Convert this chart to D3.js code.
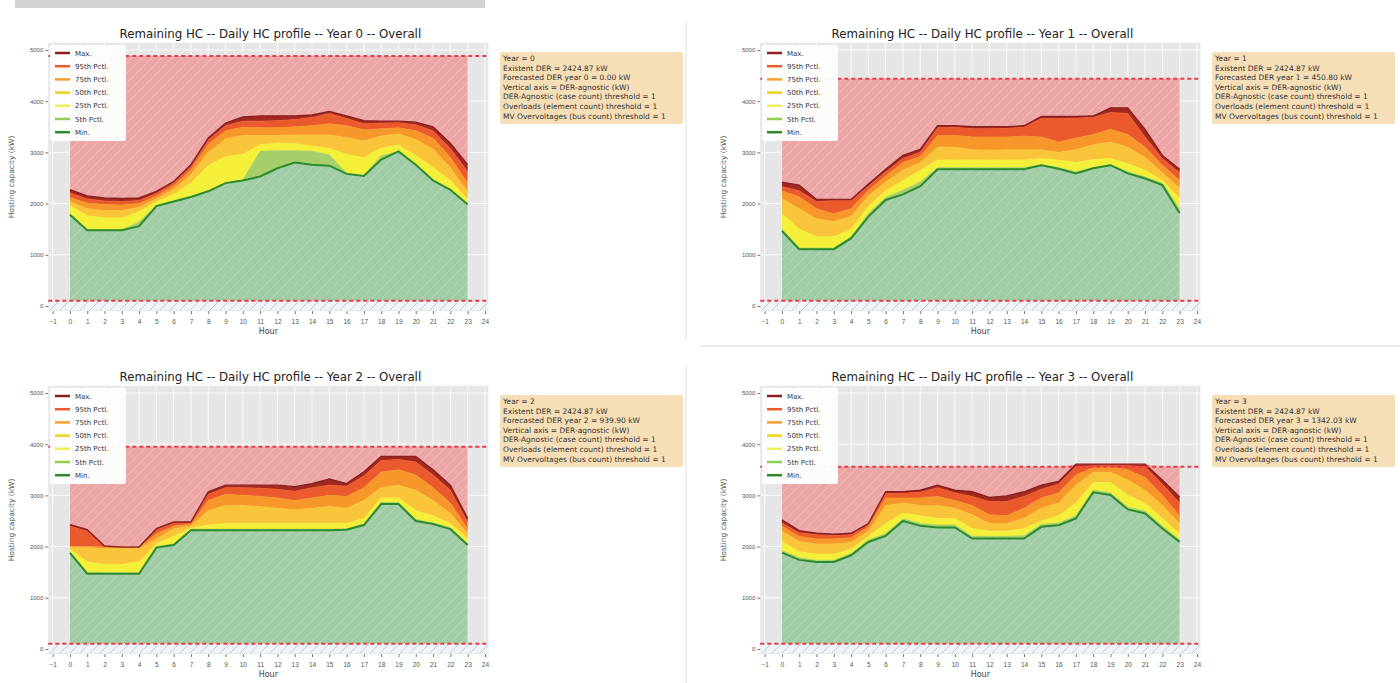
<!DOCTYPE html>
<html>
<head>
<meta charset="utf-8">
<script src="https://cdn.jsdelivr.net/npm/d3@7"></script>
<style>
  html, body { margin: 0; padding: 0; background: #fff; }
  svg { display: block; font-family: "DejaVu Sans", sans-serif; }
  .tick text { fill: #555; }
  .tick line { stroke: #777; }
</style>
</head>
<body>
<svg id="chart" width="1400" height="683"></svg>
<script>
// ---- data ----
var hours = [0, 1, 2, 3, 4, 5, 6, 7, 8, 9, 10, 11, 12, 13, 14, 15, 16, 17, 18, 19, 20, 21, 22, 23];
var xTicks = [-1, 0, 1, 2, 3, 4, 5, 6, 7, 8, 9, 10, 11, 12, 13, 14, 15, 16, 17, 18, 19, 20, 21, 22, 23, 24];
var yTicks = [0, 1000, 2000, 3000, 4000, 5000];
var seriesNames = ["Max.", "95th Pctl.", "75th Pctl.", "50th Pctl.", "25th Pctl.", "5th Pctl.", "Min."];

var years = [0, 1, 2, 3];
var upperLimit = [4880, 4440, 3950, 3560];
var lowerLimit = [100, 100, 100, 100];
var existentDer = ["2424.87", "2424.87", "2424.87", "2424.87"];
var forecastDer = ["0.00", "450.80", "939.90", "1342.03"];

var y0Max = [2270, 2150, 2110, 2100, 2110, 2240, 2430, 2760, 3280, 3570, 3690, 3710, 3710, 3710, 3730, 3800, 3710, 3620, 3610, 3610, 3590, 3500, 3180, 2760];
var y0P95 = [2210, 2090, 2050, 2040, 2060, 2200, 2400, 2720, 3240, 3520, 3610, 3610, 3620, 3640, 3680, 3760, 3660, 3560, 3570, 3580, 3540, 3420, 3080, 2620];
var y0P75 = [2120, 2010, 1980, 1970, 2000, 2150, 2350, 2660, 3160, 3420, 3490, 3480, 3480, 3500, 3520, 3560, 3520, 3440, 3460, 3480, 3420, 3280, 2900, 2400];
var y0P50 = [2040, 1900, 1860, 1860, 1930, 2090, 2280, 2560, 3000, 3260, 3330, 3330, 3330, 3340, 3340, 3340, 3290, 3220, 3320, 3360, 3250, 3060, 2700, 2230];
var y0P25 = [1960, 1760, 1720, 1720, 1840, 2030, 2180, 2400, 2740, 2920, 2960, 3150, 3180, 3170, 3120, 3080, 2960, 2900, 3080, 3140, 2940, 2700, 2450, 2080];
var y0P5  = [1800, 1490, 1480, 1480, 1640, 1960, 2050, 2140, 2250, 2410, 2460, 3020, 3030, 3030, 3020, 2950, 2590, 2550, 2930, 3020, 2760, 2460, 2280, 1990];
var y0Min = [1780, 1480, 1480, 1480, 1560, 1950, 2040, 2130, 2240, 2400, 2450, 2530, 2690, 2800, 2760, 2740, 2580, 2540, 2860, 3020, 2760, 2450, 2270, 1980];

var y1Max = [2420, 2360, 2080, 2080, 2080, 2380, 2670, 2940, 3060, 3520, 3520, 3500, 3500, 3500, 3520, 3700, 3700, 3700, 3710, 3870, 3870, 3450, 2940, 2670];
var y1P95 = [2330, 2250, 2040, 2060, 2060, 2340, 2620, 2880, 3000, 3480, 3490, 3460, 3460, 3470, 3490, 3660, 3660, 3670, 3680, 3780, 3760, 3300, 2880, 2600];
var y1P75 = [2250, 2130, 1900, 1800, 1900, 2260, 2540, 2800, 2920, 3330, 3330, 3300, 3300, 3300, 3320, 3300, 3200, 3280, 3350, 3450, 3350, 3100, 2750, 2450];
var y1P50 = [2100, 1900, 1700, 1650, 1750, 2150, 2420, 2650, 2800, 3100, 3100, 3050, 3040, 3050, 3050, 3050, 3000, 3050, 3150, 3200, 3100, 2900, 2600, 2300];
var y1P25 = [1800, 1500, 1350, 1350, 1500, 1950, 2250, 2450, 2650, 2850, 2850, 2850, 2850, 2850, 2850, 2880, 2850, 2800, 2860, 2880, 2780, 2650, 2450, 2100];
var y1P5  = [1500, 1130, 1130, 1130, 1350, 1800, 2120, 2260, 2420, 2700, 2700, 2700, 2700, 2700, 2700, 2760, 2700, 2620, 2700, 2760, 2620, 2520, 2400, 1900];
var y1Min = [1465, 1110, 1110, 1110, 1320, 1745, 2070, 2180, 2340, 2670, 2670, 2670, 2670, 2670, 2670, 2750, 2680, 2590, 2690, 2750, 2590, 2490, 2360, 1810];

var y2Max = [2430, 2330, 2010, 1990, 1990, 2350, 2480, 2480, 3070, 3200, 3200, 3200, 3200, 3170, 3230, 3320, 3230, 3460, 3760, 3760, 3760, 3500, 3200, 2550];
var y2P95 = [2400, 2300, 2000, 1990, 1990, 2330, 2460, 2470, 3020, 3150, 3150, 3140, 3120, 3080, 3150, 3200, 3180, 3380, 3680, 3700, 3650, 3400, 3100, 2480];
var y2P75 = [2000, 2000, 1990, 1980, 1980, 2250, 2400, 2440, 2900, 3020, 3000, 2980, 2950, 2900, 2950, 3000, 2980, 3150, 3450, 3500, 3400, 3150, 2850, 2350];
var y2P50 = [1990, 1980, 1960, 1960, 1960, 2150, 2350, 2400, 2700, 2800, 2800, 2780, 2750, 2720, 2750, 2780, 2750, 2900, 3150, 3200, 3100, 2900, 2650, 2250];
var y2P25 = [1950, 1700, 1650, 1650, 1700, 2050, 2200, 2360, 2420, 2450, 2450, 2450, 2450, 2450, 2450, 2450, 2450, 2550, 2950, 2950, 2700, 2600, 2450, 2150];
var y2P5  = [1900, 1500, 1490, 1490, 1490, 2000, 2050, 2340, 2340, 2340, 2340, 2340, 2340, 2340, 2340, 2340, 2350, 2440, 2860, 2860, 2530, 2460, 2370, 2060];
var y2Min = [1876, 1470, 1470, 1470, 1470, 1980, 2030, 2320, 2320, 2320, 2320, 2320, 2320, 2320, 2320, 2320, 2330, 2420, 2830, 2830, 2500, 2440, 2340, 2030];

var y3Max = [2520, 2310, 2260, 2240, 2260, 2450, 3070, 3070, 3100, 3200, 3100, 3070, 2960, 2990, 3070, 3200, 3270, 3610, 3610, 3610, 3610, 3610, 3300, 2970];
var y3P95 = [2460, 2270, 2230, 2220, 2230, 2420, 3040, 3040, 3060, 3150, 3050, 2980, 2880, 2880, 2980, 3120, 3220, 3560, 3580, 3580, 3580, 3560, 3220, 2850];
var y3P75 = [2400, 2200, 2150, 2150, 2170, 2380, 2950, 2950, 2950, 2980, 2900, 2800, 2620, 2600, 2750, 2950, 3050, 3400, 3540, 3550, 3500, 3350, 3000, 2600];
var y3P50 = [2300, 2100, 2050, 2050, 2080, 2300, 2800, 2850, 2800, 2800, 2750, 2620, 2450, 2450, 2550, 2750, 2850, 3200, 3450, 3450, 3300, 3100, 2800, 2450];
var y3P25 = [2100, 1900, 1850, 1850, 1950, 2200, 2450, 2650, 2600, 2550, 2550, 2350, 2300, 2300, 2350, 2500, 2600, 2850, 3250, 3250, 3000, 2850, 2550, 2250];
var y3P5  = [1920, 1780, 1730, 1730, 1860, 2130, 2250, 2540, 2450, 2420, 2420, 2200, 2200, 2200, 2210, 2430, 2460, 2600, 3100, 3050, 2770, 2690, 2400, 2130];
var y3Min = [1882, 1740, 1700, 1700, 1830, 2090, 2210, 2500, 2405, 2373, 2373, 2157, 2157, 2157, 2157, 2386, 2418, 2549, 3059, 3007, 2725, 2647, 2353, 2092];

var yearSeries = [
    [y0Max, y0P95, y0P75, y0P50, y0P25, y0P5, y0Min],
    [y1Max, y1P95, y1P75, y1P50, y1P25, y1P5, y1Min],
    [y2Max, y2P95, y2P75, y2P50, y2P25, y2P5, y2Min],
    [y3Max, y3P95, y3P75, y3P50, y3P25, y3P5, y3Min]
];

// ---- styling ----
var bandColors = ["#a3281f", "#eb5a2c", "#f6962b", "#fac43a", "#f4f03a", "#a6cf6c"];
var lineColors = ["#8b2020", "#ee5a2a", "#f7a030", "#efd21a", "#eef05a", "#8fcf50", "#2e8a2e"];
var pinkFill = "#eca6a6";
var greenFill = "#a0cda5";

var svg = d3.select("#chart");
var defs = svg.append("defs");

function hatch(id, bg, stroke, op) {
    var p = defs.append("pattern")
        .attr("id", id)
        .attr("patternUnits", "userSpaceOnUse")
        .attr("width", 10).attr("height", 10);
    p.append("rect").attr("width", 10).attr("height", 10).attr("fill", bg);
    p.append("path")
        .attr("d", "M-2.5,2.5 l5,-5 M0,10 l10,-10 M7.5,12.5 l5,-5")
        .attr("stroke", stroke).attr("stroke-opacity", op).attr("stroke-width", 0.9);
}
hatch("hatchPink", pinkFill, "#ffffff", 0.3);
hatch("hatchGreen", greenFill, "#ffffff", 0.28);
hatch("hatchBlue", "#f1f4f8", "#9fb9da", 0.8);

// page decorations
svg.append("rect").attr("x", 15).attr("y", 0).attr("width", 470).attr("height", 8).attr("fill", "#d4d4d4");
svg.append("line").attr("x1", 686).attr("x2", 686).attr("y1", 22).attr("y2", 340).attr("stroke", "#dcdcdc");
svg.append("line").attr("x1", 686).attr("x2", 686).attr("y1", 366).attr("y2", 683).attr("stroke", "#dcdcdc");
svg.append("line").attr("x1", 700).attr("x2", 1400).attr("y1", 346).attr("y2", 346).attr("stroke", "#dcdcdc");

var offsets = [[0, 0], [712, 0], [0, 343], [712, 343]];

var x = d3.scaleLinear().domain([-1.25, 24.2]).range([48.3, 488.4]);
var y = d3.scaleLinear().domain([-100, 5140]).range([311.1, 42.8]);

function drawPanel(i) {
    var g = svg.append("g").attr("transform", "translate(" + offsets[i][0] + "," + offsets[i][1] + ")");
    var s = yearSeries[i];
    var up = upperLimit[i], lo = lowerLimit[i];
    var x0 = x.range()[0], x1 = x.range()[1];

    g.append("rect")
        .attr("x", x0).attr("y", y.range()[1])
        .attr("width", x1 - x0).attr("height", y.range()[0] - y.range()[1])
        .attr("fill", "#e6e6e6");

    g.append("g").selectAll("line").data(xTicks).join("line")
        .attr("x1", function(d) { return x(d); }).attr("x2", function(d) { return x(d); })
        .attr("y1", y.range()[1]).attr("y2", y.range()[0])
        .attr("stroke", "#fff").attr("stroke-width", 0.8);
    g.append("g").selectAll("line").data(yTicks).join("line")
        .attr("x1", x0).attr("x2", x1)
        .attr("y1", function(d) { return y(d); }).attr("y2", function(d) { return y(d); })
        .attr("stroke", "#fff").attr("stroke-width", 0.8);

    // strip below the lower limit
    g.append("rect")
        .attr("x", x0).attr("width", x1 - x0)
        .attr("y", y(lo)).attr("height", y(-80) - y(lo))
        .attr("fill", "url(#hatchBlue)");

    function band(top, bottom) {
        return d3.area()
            .x(function(d, k) { return x(hours[k]); })
            .y0(function(d, k) { return y(bottom(k)); })
            .y1(function(d, k) { return y(top(k)); })(hours);
    }

    // pink area above the max
    g.append("path")
        .attr("d", band(function(k) { return Math.max(up, s[0][k]); }, function(k) { return s[0][k]; }))
        .attr("fill", "url(#hatchPink)");
    // green area under the min
    g.append("path")
        .attr("d", band(function(k) { return s[6][k]; }, function() { return lo; }))
        .attr("fill", "url(#hatchGreen)");

    for (var b = 0; b < 6; b++) {
        (function(b) {
            g.append("path")
                .attr("d", band(function(k) { return s[b][k]; }, function(k) { return s[b + 1][k]; }))
                .attr("fill", bandColors[b]);
        })(b);
    }

    var line = d3.line()
        .x(function(d, k) { return x(hours[k]); })
        .y(function(d) { return y(d); });
    for (var j = 1; j < 6; j++) {
        g.append("path").attr("d", line(s[j])).attr("fill", "none")
            .attr("stroke", bandColors[j]).attr("stroke-width", 0.8);
    }
    g.append("path").attr("d", line(s[0])).attr("fill", "none")
        .attr("stroke", "#8b2020").attr("stroke-width", 1.4);
    g.append("path").attr("d", line(s[6])).attr("fill", "none")
        .attr("stroke", "#2e8a2e").attr("stroke-width", 2);

    [up, lo].forEach(function(v) {
        g.append("line")
            .attr("x1", x0).attr("x2", x1)
            .attr("y1", y(v)).attr("y2", y(v))
            .attr("stroke", "#ec3b45").attr("stroke-width", 2)
            .attr("stroke-dasharray", "4,3");
    });

    // axes
    var xa = g.append("g").attr("transform", "translate(0," + y.range()[0] + ")")
        .call(d3.axisBottom(x).tickValues(xTicks).tickSize(3).tickPadding(5));
    xa.select(".domain").remove();
    xa.selectAll("text").style("font-size", "6.5px");
    var ya = g.append("g").attr("transform", "translate(" + x0 + ",0)")
        .call(d3.axisLeft(y).tickValues(yTicks).tickFormat(d3.format("d")).tickSize(3).tickPadding(2));
    ya.select(".domain").remove();
    ya.selectAll("text").style("font-size", "6px");

    g.append("text")
        .attr("x", (x0 + x1) / 2).attr("y", 334)
        .attr("text-anchor", "middle")
        .style("font-size", "8px").style("fill", "#444")
        .text("Hour");
    g.append("text")
        .attr("transform", "translate(14," + ((y.range()[0] + y.range()[1]) / 2) + ") rotate(-90)")
        .attr("text-anchor", "middle")
        .style("font-size", "7.5px").style("fill", "#555")
        .text("Hosting capacity (kW)");
    g.append("text")
        .attr("x", (x0 + x1) / 2 + 2).attr("y", 38)
        .attr("text-anchor", "middle")
        .style("font-size", "11.8px").style("fill", "#222")
        .text("Remaining HC -- Daily HC profile -- Year " + years[i] + " -- Overall");

    // legend
    var lg = g.append("g").attr("transform", "translate(50,45)");
    lg.append("rect").attr("width", 76).attr("height", 96)
        .attr("fill", "#fff").attr("fill-opacity", 0.95).attr("rx", 2);
    seriesNames.forEach(function(name, k) {
        var yy = 8 + k * 13.2;
        lg.append("line").attr("x1", 5).attr("x2", 20).attr("y1", yy).attr("y2", yy)
            .attr("stroke", lineColors[k]).attr("stroke-width", 2.5);
        lg.append("text").attr("x", 25).attr("y", yy + 2.5)
            .style("font-size", "7px").style("fill", "#333")
            .text(name);
    });

    // info box
    var info = [
        "Year = " + years[i],
        "Existent DER = " + existentDer[i] + " kW",
        "Forecasted DER year " + years[i] + " = " + forecastDer[i] + " kW",
        "Vertical axis = DER-agnostic (kW)",
        "DER-Agnostic (case count) threshold = 1",
        "Overloads (element count) threshold = 1",
        "MV Overvoltages (bus count) threshold = 1"
    ];
    var ib = g.append("g").attr("transform", "translate(500,52)");
    ib.append("rect").attr("width", 183).attr("height", 72)
        .attr("fill", "#f6deb6").attr("rx", 2);
    info.forEach(function(t, k) {
        ib.append("text").attr("x", 3).attr("y", 9 + k * 9.6)
            .style("font-size", "7.5px").style("fill", "#333")
            .text(t);
    });
}

years.forEach(function(d, i) { drawPanel(i); });
</script>
</body>
</html>
